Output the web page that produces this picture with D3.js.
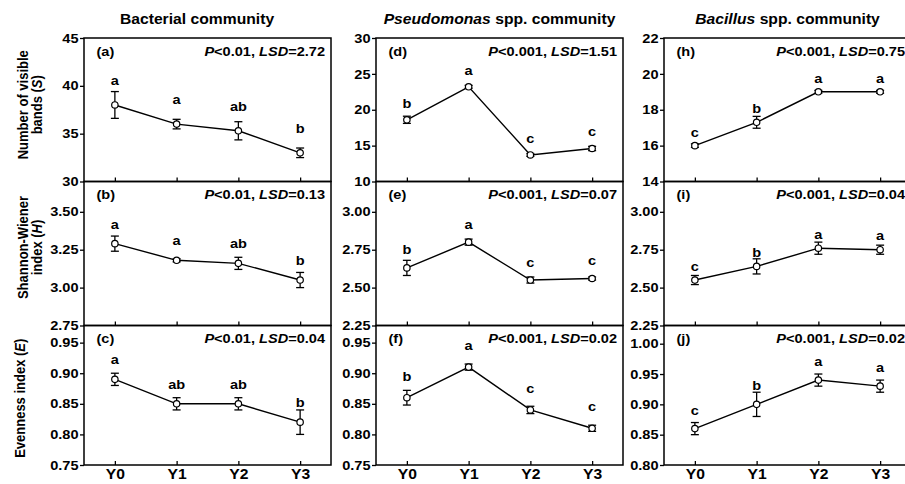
<!DOCTYPE html>
<html><head><meta charset="utf-8">
<script src="https://cdn.jsdelivr.net/npm/d3@7/dist/d3.min.js"></script>
<style>html,body{margin:0;padding:0;background:#fff;overflow:hidden}</style>
</head><body><svg id="chart" width="905" height="484"></svg>
<script>
// ---------------- data ----------------
const years = ["Y0", "Y1", "Y2", "Y3"];

// Bacterial community
const bactS = [38.0, 36.0, 35.3, 33.0];
const bactSErr = [1.4, 0.5, 0.95, 0.5];
const bactSLetters = ["a", "a", "ab", "b"];
const bactH = [3.29, 3.18, 3.16, 3.05];
const bactHErr = [0.05, 0.01, 0.04, 0.05];
const bactHLetters = ["a", "a", "ab", "b"];
const bactE = [0.89, 0.85, 0.85, 0.82];
const bactEErr = [0.01, 0.01, 0.01, 0.02];
const bactELetters = ["a", "ab", "ab", "b"];

// Pseudomonas spp. community
const pseuS = [18.6, 23.2, 13.7, 14.6];
const pseuSErr = [0.5, 0.2, 0.2, 0.3];
const pseuSLetters = ["b", "a", "c", "c"];
const pseuH = [2.63, 2.80, 2.55, 2.56];
const pseuHErr = [0.05, 0.02, 0.02, 0.01];
const pseuHLetters = ["b", "a", "c", "c"];
const pseuE = [0.86, 0.91, 0.84, 0.81];
const pseuEErr = [0.012, 0.005, 0.006, 0.005];
const pseuELetters = ["b", "a", "c", "c"];

// Bacillus spp. community
const baciS = [16.0, 17.3, 19.0, 19.0];
const baciSErr = [0.1, 0.33, 0.08, 0.08];
const baciSLetters = ["c", "b", "a", "a"];
const baciH = [2.55, 2.64, 2.76, 2.75];
const baciHErr = [0.03, 0.05, 0.04, 0.03];
const baciHLetters = ["c", "b", "a", "a"];
const baciE = [0.86, 0.90, 0.94, 0.93];
const baciEErr = [0.01, 0.02, 0.01, 0.01];
const baciELetters = ["c", "b", "a", "a"];

// statistics text per panel (columns x rows)
const panelLabels = [["(a)", "(b)", "(c)"], ["(d)", "(e)", "(f)"], ["(h)", "(i)", "(j)"]];
const pValues = [["0.01", "0.01", "0.01"], ["0.001", "0.001", "0.001"], ["0.001", "0.001", "0.001"]];
const lsdValues = [["2.72", "0.13", "0.04"], ["1.51", "0.07", "0.02"], ["0.75", "0.04", "0.02"]];

// axes
const yDomains = [
  [[30, 45], [2.75, 3.70], [0.75, 0.978]],
  [[10, 30], [2.25, 3.20], [0.75, 0.978]],
  [[14, 22], [2.25, 3.20], [0.80, 1.03]]
];
const yTicks = [
  [[30, 35, 40, 45], [2.75, 3.00, 3.25, 3.50], [0.75, 0.80, 0.85, 0.90, 0.95]],
  [[10, 15, 20, 25, 30], [2.25, 2.50, 2.75, 3.00], [0.75, 0.80, 0.85, 0.90, 0.95]],
  [[14, 16, 18, 20, 22], [2.25, 2.50, 2.75, 3.00], [0.80, 0.85, 0.90, 0.95, 1.00]]
];
const titleItalic = ["", "Pseudomonas", "Bacillus"];
const titleRest = ["Bacterial community", " spp. community", " spp. community"];
const yTitleLines = [["Number of visible", ["bands (", "S", ")"]], ["Shannon-Wiener", ["index (", "H", ")"]], [["Evenness index (", "E", ")"]]];

const series = [
  [[bactS, bactSErr, bactSLetters], [bactH, bactHErr, bactHLetters], [bactE, bactEErr, bactELetters]],
  [[pseuS, pseuSErr, pseuSLetters], [pseuH, pseuHErr, pseuHLetters], [pseuE, pseuEErr, pseuELetters]],
  [[baciS, baciSErr, baciSLetters], [baciH, baciHErr, baciHLetters], [baciE, baciEErr, baciELetters]]
];

// ---------------- layout ----------------
const SX = 1.12;
const FONT = "'Liberation Sans', Arial, Helvetica, sans-serif";
const colLeft = [84, 376, 664];
const panelW = 247;
const rowTop = [38, 181.5, 325.5];
const rowBottom = [181.5, 325.5, 465];
const letterLift = [[20, 15, 15], [12, 13.5, 17], [9, 9.5, 14]];
const titleX = [197, 499.5, 787.5];
const yTitleCenterShift = [-5, -6, 3];

const svg = d3.select("#chart").style("font-family", FONT);
svg.append("rect").attr("width", 905).attr("height", 484).attr("fill", "#fff");

function txt(parent, x, y, size, anchor, rotate) {
  return parent.append("text")
    .attr("transform", `translate(${x},${y}) scale(${SX},1)` + (rotate ? " rotate(-90)" : ""))
    .attr("text-anchor", anchor)
    .attr("font-size", size)
    .attr("font-weight", "bold")
    .attr("fill", "#000");
}

// column titles
for (let c = 0; c < 3; c++) {
  const t = txt(svg, titleX[c], 24, 14, "middle");
  if (titleItalic[c]) t.append("tspan").attr("font-style", "italic").text(titleItalic[c]);
  t.append("tspan").text(titleRest[c]);
}

// y titles
for (let r = 0; r < 3; r++) {
  const yc = (rowTop[r] + rowBottom[r]) / 2 + yTitleCenterShift[r];
  const lines = yTitleLines[r];
  const xs = lines.length === 2 ? [27.5, 41.5] : [24.5];
  lines.forEach((ln, i) => {
    const t = txt(svg, xs[i], yc, 13, "middle", true);
    if (typeof ln === "string") t.text(ln);
    else {
      t.append("tspan").text(ln[0]);
      t.append("tspan").attr("font-style", "italic").text(ln[1]);
      t.append("tspan").text(ln[2]);
    }
  });
}

for (let c = 0; c < 3; c++) {
  for (let r = 0; r < 3; r++) {
    const x0 = colLeft[c], y0 = rowTop[r], h = rowBottom[r] - rowTop[r];
    const g = svg.append("g").attr("transform", `translate(${x0},${y0})`);
    const x = d3.scalePoint().domain(years).range([0, panelW]).padding(0.5);
    const y = d3.scaleLinear().domain(yDomains[c][r]).range([h, 0]);
    const [vals, errs, letters] = series[c][r];
    const fmt = r === 0 ? d3.format("d") : d3.format(".2f");

    // y axis
    const ya = g.append("g").call(d3.axisLeft(y).tickValues(yTicks[c][r]).tickFormat(fmt).tickSize(4).tickSizeOuter(0).tickPadding(1));
    ya.select(".domain").remove();
    ya.selectAll("line").attr("stroke", "#000").attr("stroke-width", 1.3);
    ya.selectAll("text").attr("font-size", 13).attr("font-weight", "bold").attr("font-family", FONT)
      .attr("fill", "#000").attr("transform", `scale(${SX},1)`).attr("x", -5.5 / SX);

    // x axis (ticks inward)
    const xa = g.append("g").attr("transform", `translate(0,${h})`)
      .call(d3.axisBottom(x).tickSize(-4).tickSizeOuter(0).tickPadding(4));
    xa.select(".domain").remove();
    xa.selectAll("line").attr("stroke", "#000").attr("stroke-width", 1.3);
    if (r === 2) {
      xa.selectAll("text").attr("font-size", 14).attr("font-weight", "bold").attr("font-family", FONT)
        .attr("fill", "#000").attr("transform", `scale(${SX},1)`);
    } else {
      xa.selectAll("text").remove();
    }

    // frame
    g.append("rect").attr("x", 0).attr("y", 0).attr("width", panelW).attr("height", h)
      .attr("fill", "none").attr("stroke", "#000").attr("stroke-width", 1.5);

    // line
    const line = d3.line().x((d, i) => x(years[i])).y(d => y(d));
    g.append("path").datum(vals).attr("d", line).attr("fill", "none")
      .attr("stroke", "#000").attr("stroke-width", 1.4);

    // error bars
    vals.forEach((v, i) => {
      const cx = x(years[i]);
      const yt = y(v + errs[i]), yb = y(v - errs[i]);
      const eb = g.append("g").attr("stroke", "#000").attr("stroke-width", 1.3);
      eb.append("line").attr("x1", cx).attr("x2", cx).attr("y1", yt).attr("y2", yb);
      eb.append("line").attr("x1", cx - 4).attr("x2", cx + 4).attr("y1", yt).attr("y2", yt);
      eb.append("line").attr("x1", cx - 4).attr("x2", cx + 4).attr("y1", yb).attr("y2", yb);
    });

    // markers
    g.selectAll("circle.pt").data(vals).join("circle").attr("class", "pt")
      .attr("cx", (d, i) => x(years[i])).attr("cy", d => y(d)).attr("r", 3.2)
      .attr("fill", "#fff").attr("stroke", "#000").attr("stroke-width", 1.2);

    // significance letters
    vals.forEach((v, i) => {
      txt(g, x(years[i]), y(v) - letterLift[c][r], 13, "middle").text(letters[i]);
    });

    // panel label
    txt(g, 12.5, 17.5, 13, "start").text(panelLabels[c][r]);

    // stats
    const st = txt(g, 241, 17.5, 13, "end");
    st.append("tspan").attr("font-style", "italic").text("P");
    st.append("tspan").text("<" + pValues[c][r] + ", ");
    st.append("tspan").attr("font-style", "italic").text("LSD");
    st.append("tspan").text("=" + lsdValues[c][r]);
  }
}
</script>
</body></html>
